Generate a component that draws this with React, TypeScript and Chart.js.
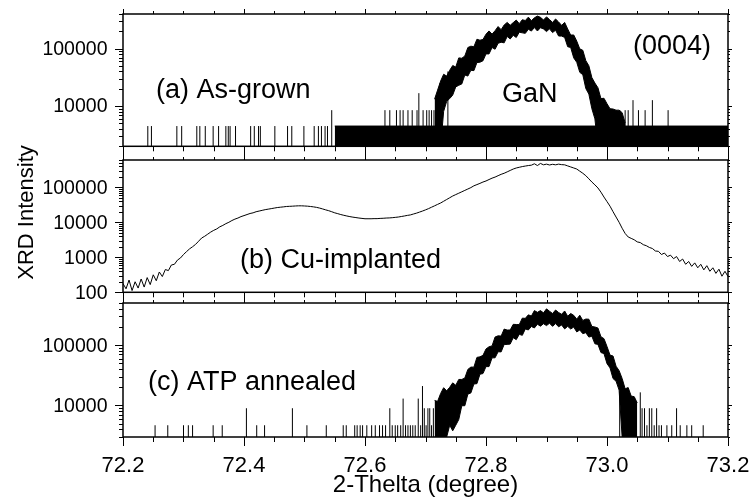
import React, { useEffect, useRef } from 'react';
import { Chart, registerables } from 'chart.js';

Chart.register(...registerables);

const FONT = '"Liberation Sans", Arial, Helvetica, sans-serif';

// ---------- shared x axis ----------
const X_MIN = 72.2;
const X_MAX = 73.2;
const xTickLabels = ['72.2', '72.4', '72.6', '72.8', '73.0', '73.2'];
const xMinorStep = 0.05;
const xTitle = '2-Thelta (degree)';
const yTitle = 'XRD Intensity';

// ---------- panel (a) As-grown ----------
const aYTicks = [10000, 100000];
// dense one-count background noise region
const aNoiseX = [72.55, 73.2];
const aNoiseLo = [2000, 2000];
const aNoiseHi = [4500, 4500];
// GaN (0004) peak band (upper / lower edge of the noisy trace)
const aBandStart = 72.715;
const aBandStep = 0.005;
const aBandUpper = [
  13200, 19000, 27300, 35800, 33300, 42000, 50800, 47800, 69000, 68000,
  74400, 104500, 110200, 108000, 145600, 140000, 144400, 178200, 202900, 178600,
  205000, 242000, 213400, 257300, 285600, 254400, 283300, 313500, 271600, 318000,
  308000, 352800, 305900, 343200, 368500, 350200, 314900, 356400, 320000, 285200,
  327800, 290700, 253800, 285600, 220000, 172000, 172800, 135000, 99000, 93500,
  61800, 50400, 31300, 25200, 20900, 13500, 13700, 11000, 9000, 8900,
  8500, 8500, 7700, 5100,
];
const aBandLower = [
  2000, 2000, 2000, 8100, 12100, 13500, 15600, 21600, 23000, 24300,
  34700, 33300, 42000, 41400, 57200, 58000, 61400, 81000, 80800, 104500,
  97500, 123900, 129000, 126000, 162800, 147300, 170100, 156400, 193300, 188000,
  184200, 217300, 201600, 232200, 202700, 230900, 220000, 197800, 220500, 190000,
  209000, 165600, 165000, 156600, 108000, 104500, 69000, 57800, 38700, 35200,
  20200, 16200, 9000, 6000, 2000, 2000, 2000, 2000, 2000, 2000,
  2000, 2000, 2000, 2000,
];
const aSpikeX = [
  72.241, 72.247, 72.289, 72.297, 72.322, 72.327, 72.336, 72.349, 72.358, 72.37, 72.374, 72.377, 72.386,
  72.411, 72.417, 72.424, 72.427, 72.451, 72.472, 72.479, 72.499, 72.516, 72.523, 72.528, 72.534, 72.538,
  72.545,
  72.633, 72.641, 72.652, 72.658, 72.663, 72.671, 72.678, 72.686,
  72.689,
  72.696, 72.702, 72.706, 72.71, 72.714, 72.718,
  72.724, 72.737, 72.985,
  73.008, 73.016, 73.021, 73.03, 73.035, 73.043, 73.052, 73.063, 73.075, 73.101,
];
const aSpikeTop = [
  4500, 4500, 4500, 4500, 4500, 4500, 4500, 4500, 4500, 4500, 4500, 4500, 4500,
  4500, 4500, 4500, 4500, 4500, 4500, 4500, 4500, 4500, 4500, 4500, 4500, 4500,
  8500,
  8500, 8500, 8500, 8500, 8500, 8500, 8500, 8500,
  16800,
  8500, 8500, 8500, 8500, 8500, 8500,
  25000, 40000, 20000,
  8500, 8500, 8500, 8500, 8500, 12700, 8500, 8500, 12700, 8500,
];

// ---------- panel (b) Cu-implanted ----------
const bYTicks = [100, 1000, 10000, 100000];
const bStart = 72.2;
const bStep = 0.005;
const bValues = [
  178, 126, 224, 112, 200, 132, 240, 141, 263, 166, 316, 214, 380, 282, 447, 417, 603, 631, 832, 955,
  1200, 1450, 1740, 2000, 2340, 2880, 3550, 3980, 4570, 5250, 5890, 6460, 7410, 8130, 9120, 10000, 11200, 12300, 13200, 14500,
  15500, 16600, 17800, 18600, 20000, 20900, 21900, 22900, 23700, 24500, 25400, 26300, 26900, 27500, 28200, 28500, 28800, 29200, 29500, 29500,
  29200, 28800, 28200, 27500, 26600, 25400, 24000, 22600, 21400, 20000, 18600, 17600, 16600, 15800, 15100, 14500, 14000, 13600, 13200, 12900,
  12600, 12600, 12600, 12700, 12700, 12900, 13000, 13200, 13300, 13500, 13800, 14100, 14600, 15100, 15700, 16200, 17200, 18200, 19500, 20900,
  22600, 24500, 26900, 29500, 32400, 35500, 39800, 44700, 50100, 56200, 61700, 67600, 74100, 81300, 89100, 97700, 110000, 119000, 129000, 141000,
  151000, 166000, 182000, 195000, 214000, 234000, 251000, 275000, 302000, 331000, 355000, 372000, 389000, 403000, 417000, 427000, 468000, 417000, 479000, 437000,
  457000, 432000, 452000, 437000, 457000, 442000, 437000, 407000, 380000, 355000, 331000, 288000, 251000, 214000, 174000, 141000, 117000, 95500, 72400, 52500,
  38900, 28800, 20000, 14100, 10000, 6760, 4790, 3800, 3470, 3160, 2750, 2630, 2290, 2140, 1910, 1780, 1510, 1480, 1200, 1320,
  1050, 1150, 912, 1050, 759, 891, 631, 759, 550, 692, 501, 631, 437, 575, 398, 501, 347, 457, 288, 398, 282,
];

// ---------- panel (c) ATP annealed ----------
const cYTicks = [10000, 100000];
const cBandStart = 72.715;
const cBandStep = 0.005;
const cBandUpper = [
  12100, 11700, 15800, 19700, 17500, 20000, 23700, 21600, 27000, 27000,
  28500, 39600, 43300, 43200, 62700, 64000, 67700, 86400, 94000, 97200,
  136400, 142800, 141400, 184800, 178000, 178600, 221400, 220000, 219000, 280500,
  278000, 318000, 304000, 374000, 350000, 374400, 343100, 399600, 365000, 334800,
  382300, 348000, 324900, 368500, 301800, 334900, 312000, 270000, 313500, 256500,
  270900, 269500, 204200, 200000, 192500, 138000, 128100, 95000, 68400, 66000,
  44700, 37800, 28000, 18900, 19800, 14300, 14000, 11000,
];
const cBandLower = [
  3000, 3000, 3000, 3000, 3000, 4700, 3800, 4700, 5850, 9900,
  9900, 15400, 16150, 22700, 23000, 33000, 33800, 44100, 44100, 61600,
  61750, 77700, 77300, 102600, 103000, 104200, 133100, 123500, 151200, 145400,
  185800, 178600, 203800, 192700, 222600, 206400, 226700, 210900, 231000, 204900,
  227900, 201400, 216300, 186000, 204900, 185300, 199300, 165600, 178500, 155200,
  161200, 136200, 140400, 105300, 102900, 75400, 72400, 49400, 42000, 27900,
  25200, 18000, 3000, 3000, 3000, 3000, 3000, 3000,
];
const cSpikeX = [
  72.253, 72.274, 72.3, 72.308, 72.315, 72.349, 72.364, 72.404, 72.421, 72.434, 72.48, 72.504, 72.536,
  72.564, 72.569, 72.583, 72.587, 72.592, 72.596, 72.603, 72.611, 72.617, 72.624, 72.629, 72.634,
  72.641, 72.645, 72.65, 72.654, 72.659, 72.663, 72.667, 72.671, 72.675, 72.679, 72.683, 72.688,
  72.692, 72.695, 72.698, 72.701, 72.704, 72.707, 72.71, 72.713,
  73.021, 73.055, 73.058, 73.062, 73.066, 73.07, 73.074, 73.078, 73.082, 73.086, 73.09,
  73.099, 73.107, 73.115, 73.121, 73.132, 73.14, 73.159,
];
const cSpikeTop = [
  4700, 4700, 4700, 4700, 4700, 4700, 4700, 9000, 4700, 4700, 9000, 4700, 4700,
  4700, 4700, 4700, 4700, 4700, 4700, 4700, 4700, 4700, 4700, 4700, 4700,
  9000, 4700, 4700, 4700, 4700, 13000, 4700, 4700, 4700, 4700, 4700, 13000,
  4700, 21000, 9000, 4700, 9000, 9000, 4700, 9000,
  17000, 16500, 9000, 9000, 4700, 9000, 9000, 4700, 9000, 4700, 4700,
  4700, 4700, 9000, 4700, 4700, 4700, 4700,
];

// ---------- helpers ----------
const seriesFrom = (start: number, step: number, vals: number[]) =>
  vals.map((y, i) => ({ x: +(start + i * step).toFixed(4), y }));

const pairsFrom = (xs: number[], ys: number[]) => xs.map((x, i) => ({ x, y: ys[i] }));

const spikesFrom = (xs: number[], tops: number[], base: number) => {
  const pts: { x: number; y: number | null }[] = [];
  xs.forEach((x, i) => {
    pts.push({ x, y: base }, { x, y: tops[i] }, { x, y: null });
  });
  return pts;
};

const lineDs = (data: any[], extra: any = {}) => ({
  data,
  borderColor: '#000',
  backgroundColor: '#000',
  borderWidth: 1,
  pointRadius: 0,
  tension: 0,
  spanGaps: false,
  fill: false,
  ...extra,
});

type Txt = { t: string; x: number; y: number; size: number };
type Panel = {
  top: number;
  bottom: number;
  yMin: number;
  yMax: number;
  yTicks: number[];
  datasets: any[];
  texts: Txt[];
  showXLabels: boolean;
  showXTitle: boolean;
  showYTitle: boolean;
};

const PLOT_LEFT = 123;
const PLOT_RIGHT = 728;
const W = 751;
const H = 497;

const panels: Panel[] = [
  {
    top: 14,
    bottom: 146.3,
    yMin: 2000,
    yMax: 400000,
    yTicks: aYTicks,
    datasets: [
      lineDs(pairsFrom(aNoiseX, aNoiseLo)),
      lineDs(pairsFrom(aNoiseX, aNoiseHi), { fill: '-1' }),
      lineDs(seriesFrom(aBandStart, aBandStep, aBandLower)),
      lineDs(seriesFrom(aBandStart, aBandStep, aBandUpper), { fill: '-1' }),
      lineDs(spikesFrom(aSpikeX, aSpikeTop, 2000)),
    ],
    texts: [
      { t: '(a) As-grown', x: 156, y: 98, size: 27 },
      { t: '(0004)', x: 633, y: 53.5, size: 27 },
      { t: 'GaN', x: 502, y: 101.5, size: 27 },
    ],
    showXLabels: false,
    showXTitle: false,
    showYTitle: false,
  },
  {
    top: 160,
    bottom: 292.3,
    yMin: 100,
    yMax: 600000,
    yTicks: bYTicks,
    datasets: [lineDs(seriesFrom(bStart, bStep, bValues))],
    texts: [{ t: '(b) Cu-implanted', x: 240, y: 268, size: 27 }],
    showXLabels: false,
    showXTitle: false,
    showYTitle: true,
  },
  {
    top: 303,
    bottom: 437,
    yMin: 3000,
    yMax: 500000,
    yTicks: cYTicks,
    datasets: [
      lineDs(seriesFrom(cBandStart, cBandStep, cBandLower)),
      lineDs(seriesFrom(cBandStart, cBandStep, cBandUpper), { fill: '-1' }),
      lineDs(spikesFrom(cSpikeX, cSpikeTop, 3000)),
    ],
    texts: [{ t: '(c) ATP annealed', x: 148, y: 390, size: 27 }],
    showXLabels: true,
    showXTitle: true,
    showYTitle: false,
  },
];

const decoPlugin = (p: Panel) => ({
  id: 'deco',
  afterDraw(chart: any) {
    const { ctx, chartArea: ca } = chart;
    const xs = chart.scales.x;
    const ys = chart.scales.y;
    ctx.save();
    ctx.strokeStyle = '#000';
    ctx.fillStyle = '#000';

    // ticks
    ctx.lineWidth = 1;
    ctx.beginPath();
    const nX = Math.round((X_MAX - X_MIN) / xMinorStep);
    for (let i = 0; i <= nX; i++) {
      const v = X_MIN + i * xMinorStep;
      const px = Math.round(xs.getPixelForValue(v)) + 0.5;
      const major = i % 4 === 0;
      ctx.moveTo(px, ca.bottom);
      ctx.lineTo(px, ca.bottom + (major ? 9 : 5));
      ctx.moveTo(px, ca.top);
      ctx.lineTo(px, ca.top - (major ? 5 : 3));
    }
    const e0 = Math.floor(Math.log10(p.yMin));
    const e1 = Math.ceil(Math.log10(p.yMax));
    for (let e = e0; e <= e1; e++) {
      for (let m = 1; m <= 9; m++) {
        const v = m * Math.pow(10, e);
        if (v < p.yMin * 0.999 || v > p.yMax * 1.001) continue;
        const py = Math.round(ys.getPixelForValue(v)) + 0.5;
        const major = m === 1;
        ctx.moveTo(ca.left, py);
        ctx.lineTo(ca.left - (major ? 8 : 4), py);
        ctx.moveTo(ca.right, py);
        ctx.lineTo(ca.right + (major ? 4 : 2), py);
      }
    }
    ctx.stroke();

    // frame
    ctx.lineWidth = 1.5;
    ctx.strokeRect(ca.left, ca.top, ca.right - ca.left, ca.bottom - ca.top);

    // y tick labels
    ctx.font = `19.5px ${FONT}`;
    ctx.textAlign = 'right';
    ctx.textBaseline = 'middle';
    p.yTicks.forEach((v) => {
      ctx.fillText(String(v), ca.left - 15.5, ys.getPixelForValue(v) + 1);
    });

    // x tick labels
    if (p.showXLabels) {
      ctx.font = `22px ${FONT}`;
      ctx.textAlign = 'center';
      ctx.textBaseline = 'alphabetic';
      xTickLabels.forEach((t) => {
        ctx.fillText(t, xs.getPixelForValue(parseFloat(t)), 471.5);
      });
    }
    if (p.showXTitle) {
      ctx.font = `24px ${FONT}`;
      ctx.textAlign = 'center';
      ctx.textBaseline = 'alphabetic';
      ctx.fillText(xTitle, (PLOT_LEFT + PLOT_RIGHT) / 2, 492);
    }
    if (p.showYTitle) {
      ctx.save();
      ctx.font = `22px ${FONT}`;
      ctx.textAlign = 'center';
      ctx.textBaseline = 'alphabetic';
      ctx.translate(33, 212.5);
      ctx.rotate(-Math.PI / 2);
      ctx.fillText(yTitle, 0, 0);
      ctx.restore();
    }

    // annotations
    ctx.textAlign = 'left';
    ctx.textBaseline = 'alphabetic';
    p.texts.forEach((t) => {
      ctx.font = `${t.size}px ${FONT}`;
      ctx.fillText(t.t, t.x, t.y);
    });
    ctx.restore();
  },
});

const buildConfig = (p: Panel): any => ({
  type: 'line',
  data: { datasets: p.datasets },
  options: {
    animation: false,
    responsive: false,
    events: [],
    layout: {
      padding: { left: PLOT_LEFT, right: W - PLOT_RIGHT, top: p.top, bottom: H - p.bottom },
    },
    plugins: {
      legend: { display: false },
      tooltip: { enabled: false },
      title: { display: false },
    },
    scales: {
      x: { type: 'linear', min: X_MIN, max: X_MAX, display: false },
      y: { type: 'logarithmic', min: p.yMin, max: p.yMax, display: false },
    },
  },
  plugins: [decoPlugin(p)],
});

export default function App() {
  const refA = useRef<HTMLCanvasElement>(null);
  const refB = useRef<HTMLCanvasElement>(null);
  const refC = useRef<HTMLCanvasElement>(null);

  useEffect(() => {
    const refs = [refA, refB, refC];
    const charts = refs.map((r, i) => new Chart(r.current as HTMLCanvasElement, buildConfig(panels[i])));
    return () => charts.forEach((c) => c.destroy());
  }, []);

  const cs: React.CSSProperties = { position: 'absolute', left: 0, top: 0 };
  return (
    <div style={{ position: 'absolute', left: 0, top: 0, width: W, height: H, background: '#fff' }}>
      <canvas ref={refA} width={W} height={H} style={cs} />
      <canvas ref={refB} width={W} height={H} style={cs} />
      <canvas ref={refC} width={W} height={H} style={cs} />
    </div>
  );
}
